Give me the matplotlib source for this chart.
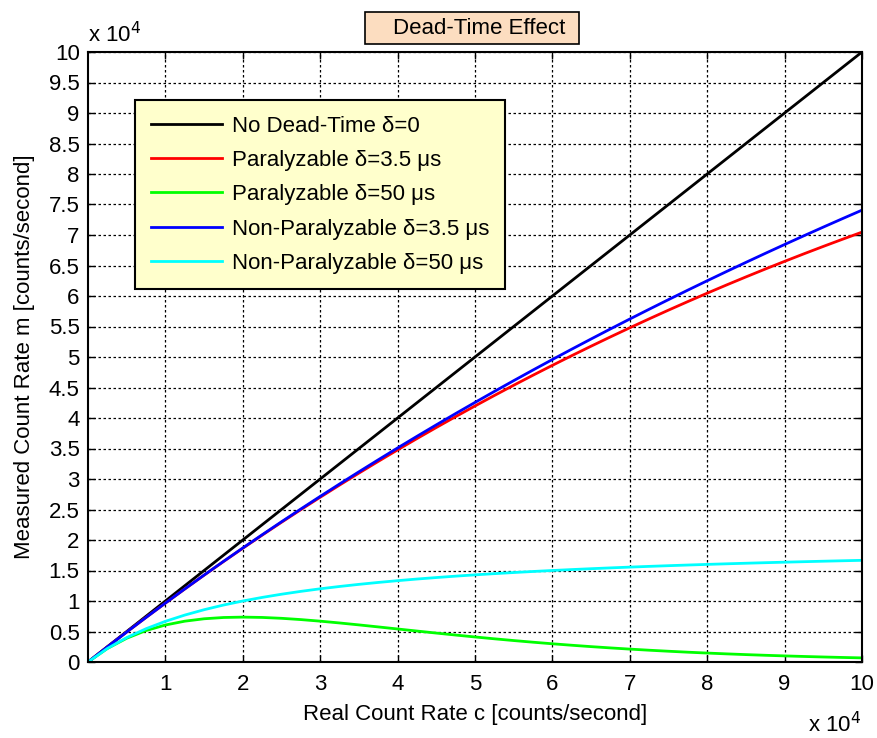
import numpy as np
import matplotlib.pyplot as plt
from matplotlib.patches import Rectangle
from matplotlib.ticker import FuncFormatter
from matplotlib import rcParams

rcParams['font.family'] = 'sans-serif'
rcParams['font.sans-serif'] = ['Liberation Sans', 'DejaVu Sans']

# real count rate c [counts/second]
real_rate = [0, 2500, 5000, 7500, 10000, 12500, 15000, 17500, 20000, 22500,
             25000, 27500, 30000, 32500, 35000, 37500, 40000, 42500, 45000, 47500,
             50000, 52500, 55000, 57500, 60000, 62500, 65000, 67500, 70000, 72500,
             75000, 77500, 80000, 82500, 85000, 87500, 90000, 92500, 95000, 97500,
             100000]

no_dead = list(real_rate)

par_35 = [0, 2478, 4913, 7306, 9656, 11965, 14233, 16460, 18648, 20796,
          22905, 24977, 27010, 29006, 30965, 32888, 34774, 36626, 38443, 40225,
          41973, 43688, 45370, 47018, 48635, 50220, 51774, 53297, 54789, 56252,
          57685, 59088, 60463, 61809, 63127, 64418, 65681, 66918, 68128, 69312,
          70469]

par_50 = [0, 2206, 3894, 5155, 6065, 6691, 7086, 7295, 7358, 7305,
          7163, 6953, 6694, 6400, 6082, 5751, 5413, 5076, 4743, 4418,
          4104, 3803, 3516, 3244, 2987, 2746, 2520, 2310, 2114, 1932,
          1764, 1608, 1465, 1333, 1212, 1101, 1000, 907, 822, 744,
          674]

nonpar_35 = [0, 2478, 4914, 7308, 9662, 11976, 14252, 16490, 18692, 20857,
             22989, 25086, 27149, 29181, 31180, 33149, 35088, 36997, 38877, 40729,
             42553, 44351, 46122, 47867, 49587, 51282, 52953, 54601, 56225, 57827,
             59406, 60964, 62500, 64016, 65511, 66986, 68441, 69877, 71295, 72693,
             74074]

nonpar_50 = [0, 2222, 4000, 5455, 6667, 7692, 8571, 9333, 10000, 10588,
             11111, 11579, 12000, 12381, 12727, 13043, 13333, 13600, 13846, 14074,
             14286, 14483, 14667, 14839, 15000, 15152, 15294, 15429, 15556, 15676,
             15789, 15897, 16000, 16098, 16190, 16279, 16364, 16444, 16522, 16596,
             16667]

labels = ['No Dead-Time δ=0', 'Paralyzable δ=3.5 μs', 'Paralyzable δ=50 μs',
          'Non-Paralyzable δ=3.5 μs', 'Non-Paralyzable δ=50 μs']
colors = ['#000000', '#FF0000', '#00FF00', '#0000FF', '#00FFFF']

x_ticks = [10000, 20000, 30000, 40000, 50000, 60000, 70000, 80000, 90000, 100000]
y_ticks = np.arange(0, 100001, 5000)

fs = 16
W, H = 878, 738
fig = plt.figure(figsize=(W / 100, H / 100), dpi=100)
ax = fig.add_axes([88/W, 76/H, 774/W, 610/H])

for y, lab, c in zip([no_dead, par_35, par_50, nonpar_35, nonpar_50], labels, colors):
    ax.plot(real_rate, y, color=c, lw=2.0, label=lab)

ax.set_xlim(0, 100000)
ax.set_ylim(0, 100000)
ax.set_xticks(x_ticks)
ax.set_yticks(y_ticks)
fmt = FuncFormatter(lambda v, p: '%g' % (v / 1e4))
ax.xaxis.set_major_formatter(fmt)
ax.yaxis.set_major_formatter(fmt)
ax.tick_params(direction='in', length=5, width=1, labelsize=fs, top=True, right=True)
ax.tick_params(axis='x', pad=9)
ax.tick_params(axis='y', pad=6)
ax.grid(True, color='black', linestyle=(0, (2, 2)), linewidth=0.9)
for s in ax.spines.values():
    s.set_linewidth(1.5)

ax.set_xlabel('Real Count Rate c [counts/second]', fontsize=fs, labelpad=6)
ax.set_ylabel('Measured Count Rate m [counts/second]', fontsize=fs, labelpad=10)

fig.text(88/W, 1 - 42/H, 'x 10$^4$', fontsize=fs, ha='left', va='baseline')
fig.text(808/W, 1 - 732/H, 'x 10$^4$', fontsize=fs, ha='left', va='baseline')

# title box
fig.patches.append(Rectangle((365/W, 1 - 44/H), 214/W, 32/H, transform=fig.transFigure,
                             fc='#FCDDC0', ec='black', lw=1.2))
fig.text(479/W, 1 - 28/H, 'Dead-Time Effect', fontsize=fs, ha='center', va='center')

leg = ax.legend(loc='upper left', bbox_to_anchor=(135/W, 1 - 100/H),
                bbox_transform=fig.transFigure, borderaxespad=0, fontsize=fs,
                fancybox=False, framealpha=1, facecolor='#FFFFCC', edgecolor='black',
                handlelength=3.2, handletextpad=0.45, labelspacing=0.6, borderpad=0.7)
leg.get_frame().set_linewidth(1.5)

fig.savefig('out.png', dpi=100)
